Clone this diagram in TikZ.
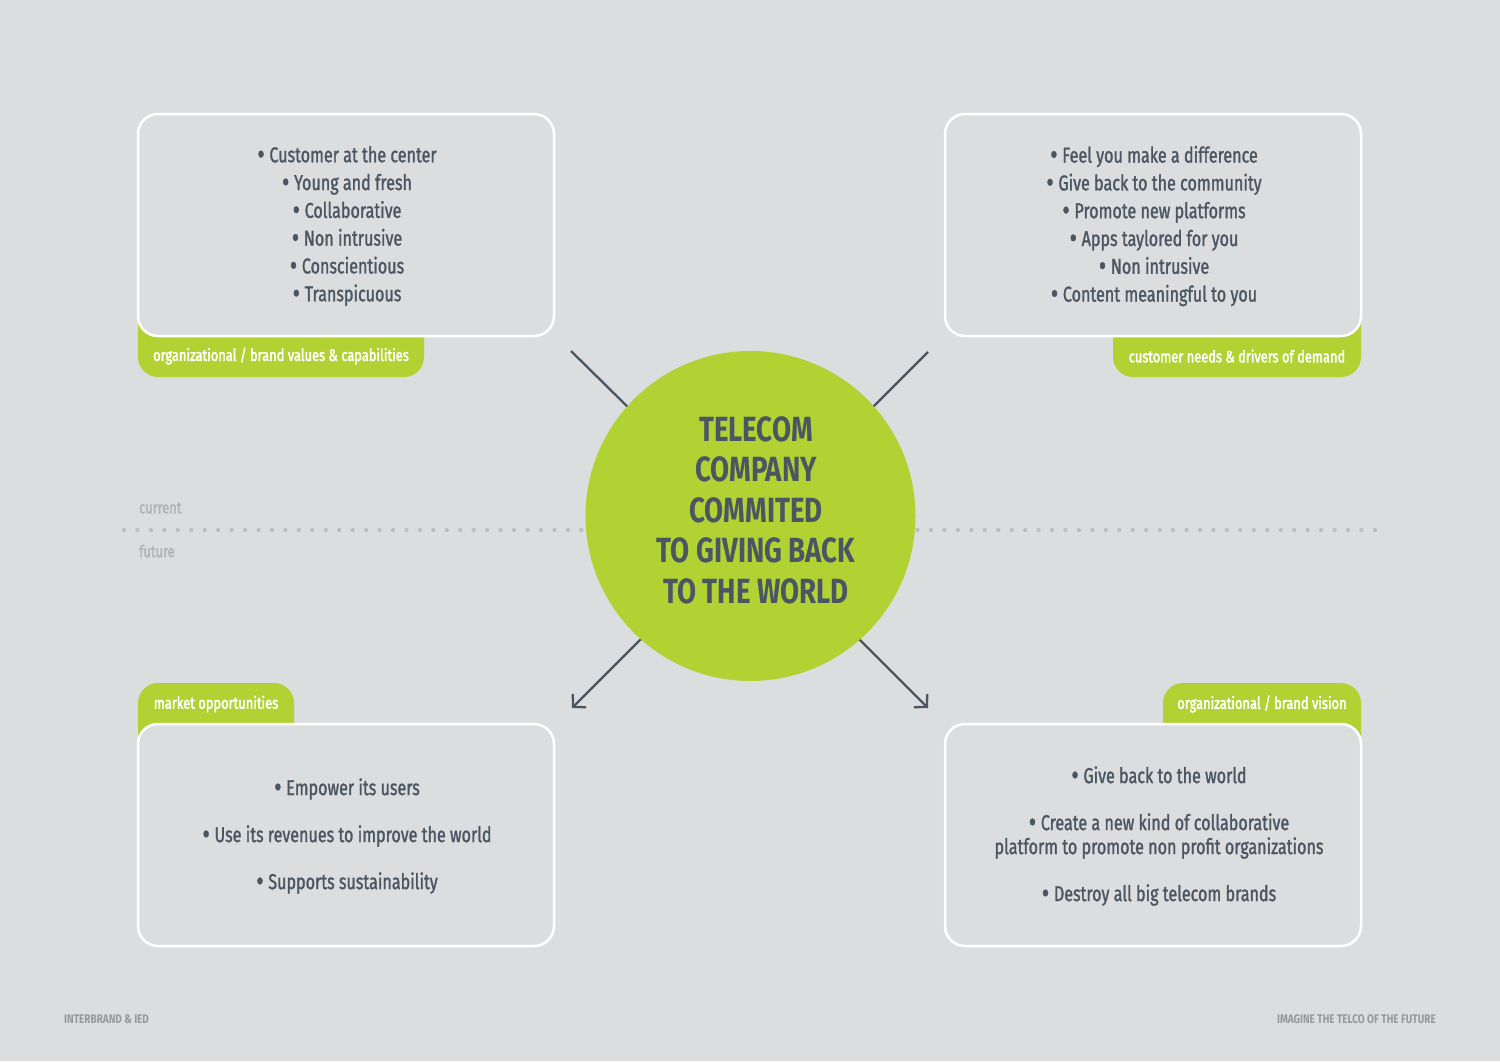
\documentclass[tikz,border=0pt]{standalone}
\usepackage{fontspec}
\setmainfont{Fira Sans}[FakeStretch=0.74]
\newfontfamily\bodyfont{Fira Sans}[FakeStretch=0.75, FakeBold=1.3]
\newfontfamily\titlefont{Fira Sans Bold}[FakeStretch=0.79]
\newfontfamily\tabfont{Fira Sans}[FakeStretch=0.78, FakeBold=2.2]
\newfontfamily\footfont{Fira Sans Bold}[FakeStretch=0.8]
\usetikzlibrary{arrows.meta}
\definecolor{bg}{RGB}{220,221,223}
\definecolor{lime}{RGB}{178,210,52}
\definecolor{ink}{RGB}{74,87,99}
\definecolor{dotc}{RGB}{186,189,193}
\definecolor{faint}{RGB}{176,179,183}
\definecolor{foot}{RGB}{150,152,155}
\newcommand\bul{\raisebox{-0.1em}{\scalebox{1.4}{•}}\hspace{0.22em}}
\begin{document}
\begin{tikzpicture}[x=1pt,y=-1pt,
  card/.style={draw=white, line width=2.5pt, fill=bg, rounded corners=20pt,
    minimum width=416pt, minimum height=222pt, inner sep=0pt},
  cardtxt/.style={inner sep=0pt, align=center, text=ink,
    font=\bodyfont\fontsize{21.5}{27.8}\selectfont},
  tabbg/.style={fill=lime, rounded corners=20pt},
  tabtxt/.style={text=white, font=\tabfont\fontsize{16.5}{18}\selectfont, inner sep=0pt},
  conn/.style={draw=ink, line width=2.3pt},
  arr/.style={conn, -{Straight Barb[length=9pt,width=19pt,line width=2.3pt]}},
  side/.style={text=faint, font=\tabfont\fontsize{16.5}{18}\selectfont, anchor=west, inner sep=0pt},
  foottxt/.style={text=foot, font=\footfont\fontsize{12.5}{14}\selectfont, inner sep=0pt},
  hub/.style={circle, fill=lime, minimum size=330pt, inner sep=0pt}
]
\fill[bg] (0,0) rectangle (1500,1061);
\useasboundingbox (0,0) rectangle (1500,1061);

% dotted current/future divider
\foreach \i in {0,...,93} \fill[dotc] (124+13.45*\i,530) circle (2.1pt);
\node[side] (cur) at (139,508) {current};
\node[side] (fut) at (139,551) {future};

% tabs
\fill[tabbg] (138,250) rectangle (424,377);
\fill[tabbg] (1113,250) rectangle (1361,377);
\fill[tabbg] (138,683) rectangle (294,800);
\fill[tabbg] (1163,683) rectangle (1361,800);

% cards
\node[card] (tl) at (346,225) {};
\node[card] (tr) at (1153,225) {};
\node[card] (bl) at (346,835) {};
\node[card] (br) at (1153,835) {};
\node[cardtxt] (tlt) at (347,226) {\bul Customer at the center\\ \bul Young and fresh\\ \bul Collaborative\\ \bul Non intrusive\\ \bul Conscientious\\ \bul Transpicuous};
\node[cardtxt] (trt) at (1154,226) {\bul Feel you make a difference\\ \bul Give back to the community\\ \bul Promote new platforms\\ \bul Apps taylored for you\\ \bul Non intrusive\\ \bul Content meaningful to you};
\node[cardtxt, font=\bodyfont\fontsize{21.5}{47}\selectfont] (blt) at (347,836) {\bul Empower its users\\ \bul Use its revenues to improve the world\\ \bul Supports sustainability};
\node[cardtxt, font=\bodyfont\fontsize{21.5}{24}\selectfont] (brt) at (1159,836) {\bul Give back to the world\\[23pt] \bul Create a new kind of collaborative\\ platform to promote non profit organizations\\[23pt] \bul Destroy all big telecom brands};

% tab labels
\node[tabtxt] (tll) at (281,356) {organizational / brand values \& capabilities};
\node[tabtxt] (trl) at (1237,356) {customer needs \& drivers of demand};
\node[tabtxt] (bll) at (216,704) {market opportunities};
\node[tabtxt] (brl) at (1262,704) {organizational / brand vision};

% connectors
\coordinate (a1) at (571,351); \coordinate (a2) at (640,419);
\coordinate (b1) at (928,352); \coordinate (b2) at (862,418);
\coordinate (c1) at (650,630); \coordinate (c2) at (572,708);
\coordinate (d1) at (850,630); \coordinate (d2) at (928,708);
\draw[conn] (a1) -- (a2);
\draw[conn] (b1) -- (b2);
\draw[arr] (c1) -- (c2);
\draw[arr] (d1) -- (d2);

% hub
\node[hub] (hub) at (750.5,516) {};
\node[text=ink, font=\titlefont\fontsize{35}{40.5}\selectfont, align=center, inner sep=0pt] (title) at (756,510) {TELECOM\\ COMPANY\\ COMMITED\\ TO GIVING BACK\\ TO THE WORLD};

% footer
\node[foottxt, anchor=west] (fl) at (64,1019) {INTERBRAND \& IED};
\node[foottxt, anchor=east] (fr) at (1436,1019) {IMAGINE THE TELCO OF THE FUTURE};
\end{tikzpicture}
\end{document}
